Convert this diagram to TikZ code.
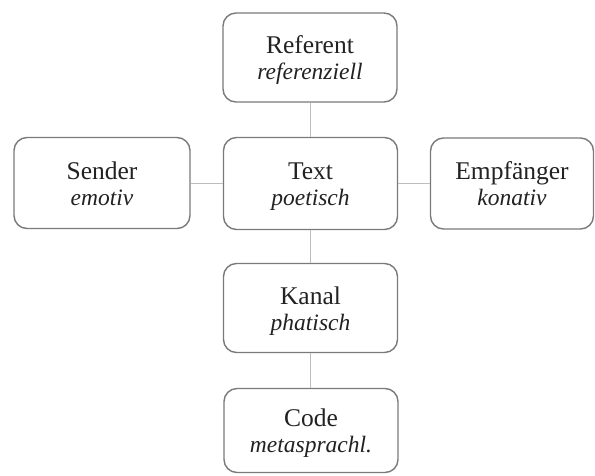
\documentclass[tikz,border=0pt]{standalone}
\usepackage{fontspec}
\setmainfont{Liberation Serif}
\definecolor{boxline}{HTML}{7A7A7A}
\definecolor{conline}{HTML}{BDBDBD}
\definecolor{txt}{HTML}{222222}
\begin{document}
\begin{tikzpicture}[x=1pt,y=-1pt,
  fbox/.style={draw=boxline, line width=1.4pt, rounded corners=13pt, fill=white,
    align=center, text=txt, text height=44pt, text depth=0pt, inner sep=0pt,
    font=\fontsize{25.5}{26}\selectfont},
  con/.style={draw=conline, line width=1pt}]
\useasboundingbox (0,0) rectangle (595,475);
\newcommand{\fn}[1]{{\fontsize{23.5}{26}\selectfont\itshape #1}}
\node[fbox, minimum width=174pt, minimum height=89pt] (ref) at (310,57.5) {Referent\\\fn{referenziell}};
\node[fbox, minimum width=176pt, minimum height=91pt] (send) at (102,183) {Sender\\\fn{emotiv}};
\node[fbox, minimum width=174pt, minimum height=92pt] (text) at (310.5,183.5) {Text\\\fn{poetisch}};
\node[fbox, minimum width=163pt, minimum height=91pt] (emp) at (512,183.5) {Empfänger\\\fn{konativ}};
\node[fbox, minimum width=174pt, minimum height=89pt] (kanal) at (310.5,308) {Kanal\\\fn{phatisch}};
\node[fbox, minimum width=174pt, minimum height=84pt] (code) at (311,430.5) {Code\\\fn{metasprachl.}};
\draw[con] (ref.south) -- (ref.south |- text.north);
\draw[con] (send.east) -- (text.west |- send.east);
\draw[con] (text.east) -- (emp.west |- text.east);
\draw[con] (text.south) -- (text.south |- kanal.north);
\draw[con] (kanal.south) -- (kanal.south |- code.north);
\end{tikzpicture}
\end{document}
